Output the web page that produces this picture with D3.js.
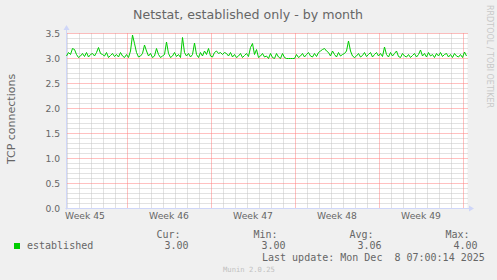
<!DOCTYPE html>
<html>
<head>
<meta charset="utf-8">
<script src="https://cdn.jsdelivr.net/npm/d3@7"></script>
<style>
  body { margin: 0; background: #f0f0f0; }
  svg { display: block; }
  text { fill: #666666; }
</style>
</head>
<body>
<svg id="chart" width="497" height="280"></svg>
<script>
// one sample every 4 hours, starting Tue Nov 4 23:00 UTC 2025
var startTime = Date.UTC(2025, 10, 4, 23, 0, 0);
var stepHours = 4;
var established = [
    3.05, 3.12, 3.08, 3.20, 3.18, 3.08, 3.02, 3.05, 3.10, 3.04,
    3.12, 3.03, 3.08, 3.10, 3.05, 3.12, 3.22, 3.10, 3.08, 3.05,
    3.12, 3.02, 3.06, 3.10, 3.04, 3.08, 3.03, 3.12, 3.05, 3.02,
    3.08, 3.02, 3.15, 3.47, 3.30, 3.12, 3.03, 3.05, 3.10, 3.27,
    3.15, 3.05, 3.10, 3.02, 3.05, 3.20, 3.08, 3.02, 3.05, 3.08,
    3.33, 3.10, 3.02, 3.05, 3.12, 3.04, 3.08, 3.02, 3.42, 3.12,
    3.05, 3.10, 3.03, 3.08, 3.31, 3.08, 3.02, 3.12, 3.05, 3.15,
    3.08, 3.20, 3.05, 3.03, 3.12, 3.15, 3.10, 3.12, 3.08, 3.12,
    3.10, 3.05, 3.12, 3.03, 3.08, 3.02, 3.05, 3.10, 3.02, 3.06,
    3.10, 3.04, 3.22, 3.30, 3.08, 3.18, 3.02, 3.05, 3.10, 3.03,
    3.05, 3.00, 3.10, 3.02, 3.00, 3.10, 3.03, 3.00, 3.10, 3.02,
    3.00, 3.00, 3.00, 3.00, 3.00, 3.08, 3.02, 3.05, 3.10, 3.03,
    3.08, 3.12, 3.05, 3.03, 3.10, 3.04, 3.12, 3.15, 3.18, 3.20,
    3.15, 3.12, 3.05, 3.15, 3.08, 3.03, 3.12, 3.05, 3.08, 3.10,
    3.15, 3.35, 3.15, 3.05, 3.02, 3.05, 3.10, 3.03, 3.06, 3.12,
    3.04, 3.08, 3.12, 3.03, 3.08, 3.12, 3.05, 3.10, 3.04, 3.23,
    3.08, 3.03, 3.12, 3.05, 3.10, 3.15, 3.04, 3.02, 3.10, 3.05,
    3.03, 3.08, 3.02, 3.06, 3.10, 3.03, 3.08, 3.17, 3.05, 3.10,
    3.03, 3.12, 3.05, 3.08, 3.02, 3.10, 3.05, 3.12, 3.04, 3.08,
    3.10, 3.03, 3.08, 3.02, 3.10, 3.05, 3.03, 3.08, 3.02, 3.13, 3.05
];
var yTicks = [0, 0.5, 1.0, 1.5, 2.0, 2.5, 3.0, 3.5];
var legendHeaders = ['Cur:', 'Min:', 'Avg:', 'Max:'];
var legendValues = ['3.00', '3.00', '3.06', '4.00'];
var seriesName = 'established';
var lastUpdate = 'Last update: Mon Dec  8 07:00:14 2025';

d3.select(window).on('load', init);

function init() {
    var svg = d3.select('#chart');
    var left = 66.5, right = 466.5, top = 33.5, bottom = 208.5;

    var data = established.map(function(v, i) {
        return { t: new Date(startTime + i * stepHours * 3600 * 1000), v: v };
    });
    var endTime = data[data.length - 1].t;

    var x = d3.scaleUtc().domain([new Date(startTime), endTime]).range([left, right]);
    var y = d3.scaleLinear().domain([0, 3.5]).range([bottom, top]);

    function px(v) { return Math.round(v - 0.5) + 0.5; }

    // canvas
    svg.append('rect')
        .attr('x', left).attr('y', top)
        .attr('width', right - left + 1).attr('height', bottom - top)
        .style('fill', '#ffffff');

    // minor grid
    var minorY = d3.range(0, 35.01, 1).map(function(d) { return d / 10; })
        .filter(function(d) { return Math.round(d * 10) % 5 != 0; });
    svg.append('g').selectAll('line')
        .data(minorY).enter().append('line')
        .attr('x1', left).attr('x2', right + 1)
        .attr('y1', function(d) { return px(y(d)); })
        .attr('y2', function(d) { return px(y(d)); })
        .style('stroke', '#c4c4c4').style('stroke-dasharray', '1,1');

    var days = d3.utcDay.range(new Date(startTime), endTime)
        .filter(function(d) { return d.getUTCDay() != 1; });
    svg.append('g').selectAll('line')
        .data(days).enter().append('line')
        .attr('x1', function(d) { return px(x(d)); })
        .attr('x2', function(d) { return px(x(d)); })
        .attr('y1', top).attr('y2', bottom)
        .style('stroke', '#c4c4c4').style('stroke-dasharray', '1,1');

    // major grid
    svg.append('g').selectAll('line')
        .data(yTicks.slice(1)).enter().append('line')
        .attr('x1', left).attr('x2', right + 1)
        .attr('y1', function(d) { return px(y(d)); })
        .attr('y2', function(d) { return px(y(d)); })
        .style('stroke', '#ff8080').style('stroke-dasharray', '1,1');

    var mondays = d3.utcMonday.range(new Date(startTime), endTime);
    svg.append('g').selectAll('line')
        .data(mondays).enter().append('line')
        .attr('x1', function(d) { return px(x(d)); })
        .attr('x2', function(d) { return px(x(d)); })
        .attr('y1', top).attr('y2', bottom)
        .style('stroke', '#ff8080').style('stroke-dasharray', '1,1');

    // week labels in the middle of each week
    var weekMid = d3.utcMonday.range(d3.utcMonday.floor(new Date(startTime)), endTime)
        .map(function(d) { return new Date(+d + 3.5 * 86400000); })
        .filter(function(d) { return d < endTime; });
    svg.append('g').selectAll('text')
        .data(weekMid).enter().append('text')
        .attr('x', function(d) { return x(d); })
        .attr('y', 219)
        .attr('text-anchor', 'middle')
        .style('font', '9.2px "DejaVu Sans"')
        .text(d3.utcFormat('Week %V'));

    // y tick labels
    svg.append('g').selectAll('text')
        .data(yTicks).enter().append('text')
        .attr('x', 60)
        .attr('y', function(d) { return y(d) + 3.3; })
        .attr('text-anchor', 'end')
        .style('font', '9.2px "DejaVu Sans"')
        .text(d3.format('.1f'));

    // axes with arrows
    svg.append('line')
        .attr('x1', left).attr('x2', left).attr('y1', bottom + 1).attr('y2', 29)
        .style('stroke', '#cfd6f8');
    svg.append('line')
        .attr('x1', left - 1).attr('x2', 470).attr('y1', bottom).attr('y2', bottom)
        .style('stroke', '#cfd6f8');
    svg.append('path')
        .attr('d', 'M' + (left - 3) + ',30L' + (left + 3) + ',30L' + left + ',25Z')
        .style('fill', '#cfd6f8');
    svg.append('path')
        .attr('d', 'M469,' + (bottom - 3) + 'L469,' + (bottom + 3) + 'L474,' + bottom + 'Z')
        .style('fill', '#cfd6f8');

    // series
    var line = d3.line()
        .x(function(d) { return x(d.t); })
        .y(function(d) { return y(d.v); });
    svg.append('path')
        .datum(data)
        .attr('d', line)
        .style('fill', 'none')
        .style('stroke', '#00cc00')
        .style('stroke-width', 1);

    // titles
    svg.append('text')
        .attr('x', 248).attr('y', 18.5)
        .attr('text-anchor', 'middle')
        .style('font', '12.6px "DejaVu Sans"')
        .text('Netstat, established only - by month');

    svg.append('text')
        .attr('transform', 'translate(15,119) rotate(-90)')
        .attr('text-anchor', 'middle')
        .style('font', '11px "DejaVu Sans"')
        .text('TCP connections');

    svg.append('text')
        .attr('transform', 'translate(487,5) rotate(90)')
        .style('font', '8px "DejaVu Sans"')
        .style('fill', '#c8c8c8')
        .text('RRDTOOL / TOBI OETIKER');

    // legend
    var mono = '10px "DejaVu Sans Mono"';
    svg.append('rect')
        .attr('x', 14).attr('y', 243).attr('width', 6).attr('height', 6)
        .style('fill', '#00cc00');
    svg.append('text')
        .attr('x', 27).attr('y', 249)
        .style('font', mono)
        .text(seriesName);

    var headEnds = [180.5, 277.5, 373.5, 469.5];
    var valEnds = [188.5, 285.5, 381.5, 477.5];
    svg.append('g').selectAll('text')
        .data(legendHeaders).enter().append('text')
        .attr('x', function(d, i) { return headEnds[i]; })
        .attr('y', 237.5)
        .attr('text-anchor', 'end')
        .style('font', mono)
        .text(function(d) { return d; });
    svg.append('g').selectAll('text')
        .data(legendValues).enter().append('text')
        .attr('x', function(d, i) { return valEnds[i]; })
        .attr('y', 249)
        .attr('text-anchor', 'end')
        .style('font', mono)
        .text(function(d) { return d; });

    svg.append('text')
        .attr('x', 262).attr('y', 261)
        .style('font', mono)
        .style('white-space', 'pre')
        .attr('xml:space', 'preserve')
        .text(lastUpdate);

    svg.append('text')
        .attr('x', 223).attr('y', 271.5)
        .style('font', '7.2px "DejaVu Sans Mono"')
        .style('fill', '#c0c0c0')
        .text('Munin 2.0.25');
}
</script>
</body>
</html>
